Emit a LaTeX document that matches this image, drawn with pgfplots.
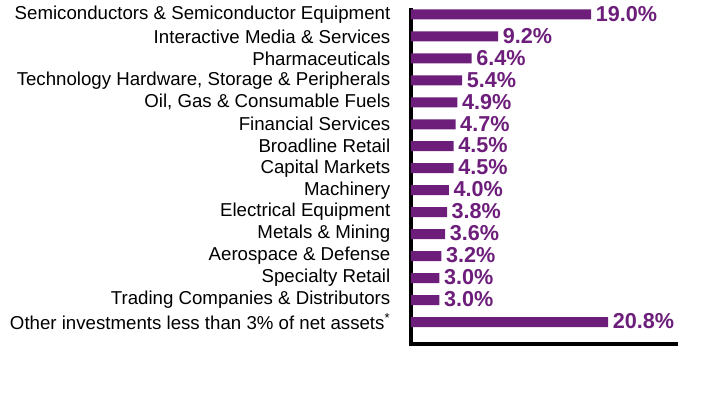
\documentclass[border=0pt]{standalone}
\usepackage{pgfplots}
\pgfplotsset{compat=1.18}
\usepackage{fontspec}
\setmainfont{Liberation Sans}
\definecolor{barpurple}{RGB}{108,30,122}
\begin{document}
\begin{tikzpicture}[x=0.75pt,y=0.75pt]
\path[use as bounding box] (0,0) rectangle (708,408);
\begin{axis}[
  at={(411pt*0.75,64pt*0.75)}, anchor=south west,
  scale only axis, width=199pt, height=250.5pt,
  xbar, bar width=7.5pt,
  xmin=0, xmax=28, ymin=-1, ymax=14.2,
  axis x line*=bottom, axis y line*=left,
  every outer x axis line/.append style={line width=2.4pt, -, line cap=rect},
  every outer y axis line/.append style={line width=2.4pt, -, line cap=rect},
  x axis line style={line width=2.4pt, -},
  y axis line style={line width=2.4pt, -},
  xtick=\empty,
  ytick={0,...,14},
  yticklabels={Other investments less than 3\% of net assets\textsuperscript{*},
    Trading Companies \& Distributors, Specialty Retail, Aerospace \& Defense,
    Metals \& Mining, Electrical Equipment, Machinery, Capital Markets,
    Broadline Retail, Financial Services, {Oil, Gas \& Consumable Fuels},
    {Technology Hardware, Storage \& Peripherals}, Pharmaceuticals,
    Interactive Media \& Services, Semiconductors \& Semiconductor Equipment},
  major tick length=0pt,
  yticklabel style={font=\fontsize{14}{16}\selectfont, xshift=-12pt},
  nodes near coords={\pgfmathprintnumber[fixed,fixed zerofill,precision=1,assume math mode=true]{\pgfplotspointmeta}\%},
  nodes near coords style={font=\fontsize{16.2}{18}\selectfont\bfseries, text=barpurple, anchor=west, xshift=0pt, yshift=0.5pt},
  point meta=x,
  clip=false,
]
\addplot[fill=barpurple, draw=none] coordinates {
(20.8,0) (3.0,1) (3.0,2) (3.2,3) (3.6,4) (3.8,5) (4.0,6) (4.5,7) (4.5,8) (4.7,9) (4.9,10) (5.4,11) (6.4,12) (9.2,13) (19.0,14)};
\end{axis}
\end{tikzpicture}
\end{document}
